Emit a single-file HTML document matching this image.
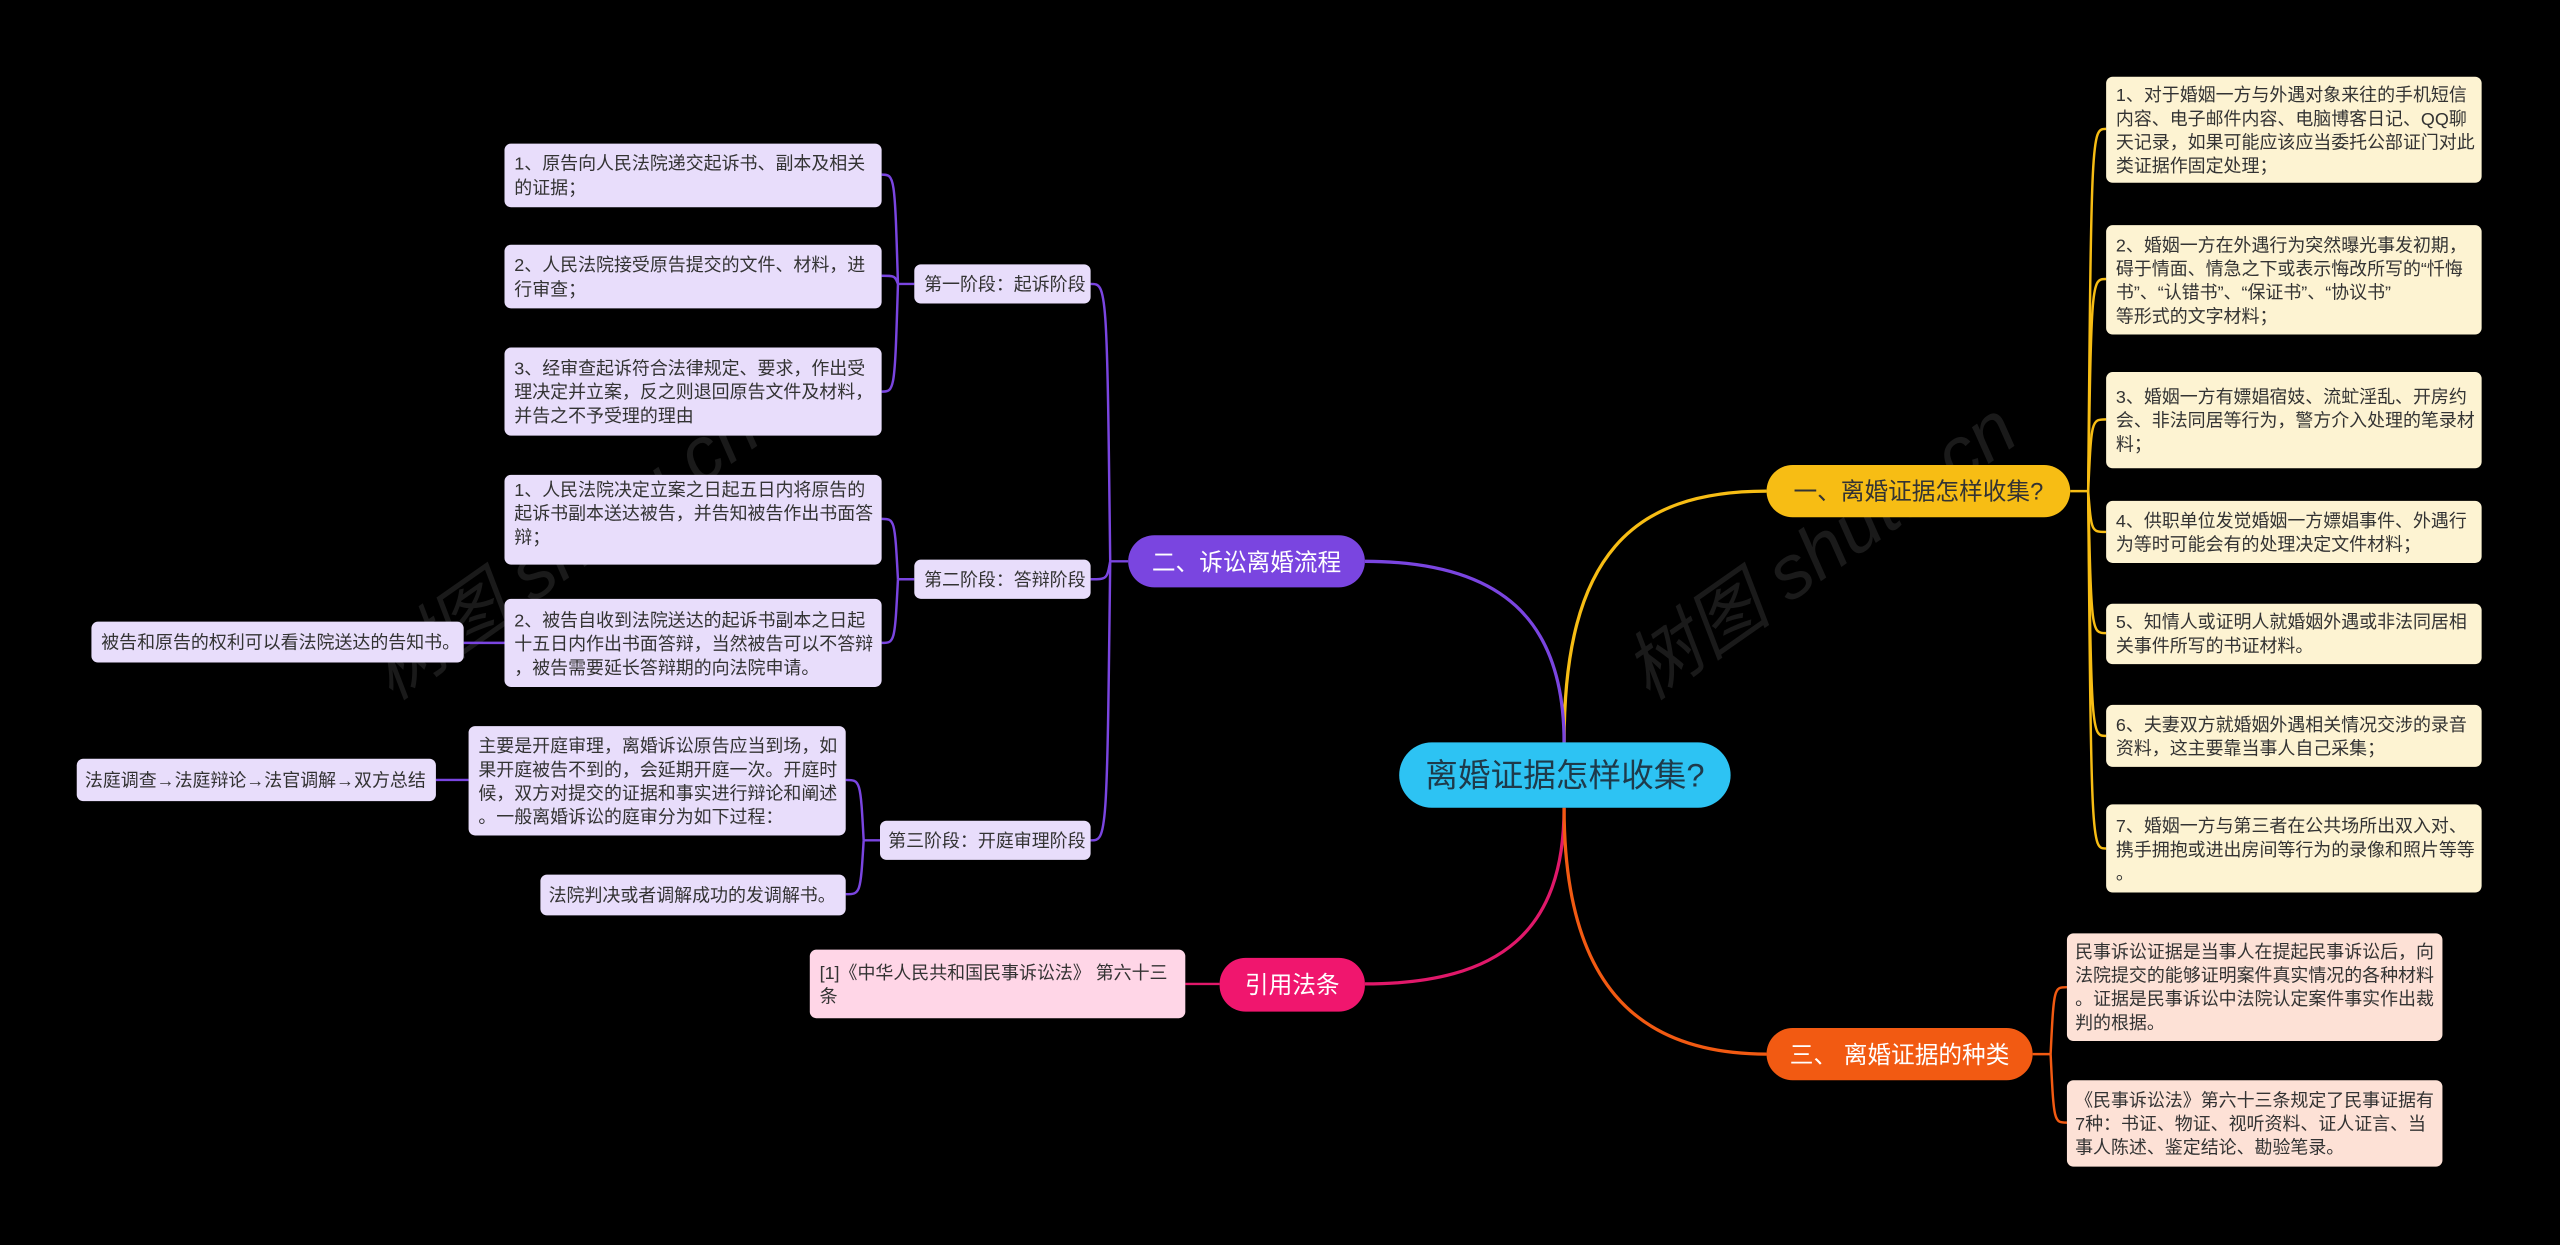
<!DOCTYPE html>
<html><head><meta charset="utf-8"><style>
html,body{margin:0;padding:0;background:#000;width:2560px;height:1245px;overflow:hidden}
svg{display:block}
text{font-family:"Liberation Sans","Noto Sans CJK SC",sans-serif}
.l{font-size:11px;fill:#333}
</style></head><body>
<svg width="2560" height="1245" viewBox="0 0 1568 763" preserveAspectRatio="none" xmlns="http://www.w3.org/2000/svg">
<g fill="#1a1a1a" font-size="46" font-family="Liberation Serif,Noto Serif CJK SC,serif" font-style="italic">
<text transform="translate(240,430) rotate(-35)">树图 shutu.cn</text>
<text transform="translate(1010,430) rotate(-35)">树图 shutu.cn</text>
</g>
<g fill="none" stroke-width="2">
<path d="M958,455 C958,340 1000,301 1082,301" stroke="#f7bd14"/>
<path d="M958,455 C958,380 920,344 836,344" stroke="#7a45e0"/>
<path d="M958,495 C958,570 920,603 836,603" stroke="#e0186a"/>
<path d="M958,495 C958,600 1000,646 1082,646" stroke="#f25a12"/>
</g>
<g fill="none" stroke="#f7bd14" stroke-width="1.5">
<path d="M1268,301 L1279,301"/>
<path d="M1279,301 C1281,79 1281,79 1290,79"/>
<path d="M1279,301 C1281,171 1281,171 1290,171"/>
<path d="M1279,301 C1281,257 1281,257 1290,257"/>
<path d="M1279,301 C1281,326 1281,326 1290,326"/>
<path d="M1279,301 C1281,388 1281,388 1290,388"/>
<path d="M1279,301 C1281,451 1281,451 1290,451"/>
<path d="M1279,301 C1281,520 1281,520 1290,520"/>
</g>
<g fill="none" stroke="#7a45e0" stroke-width="1.5">
<path d="M691,344 L680,344"/>
<path d="M680,344 C678,174 678,174 668,174"/>
<path d="M680,344 C678,355 678,355 668,355"/>
<path d="M680,344 C678,515 678,515 668,515"/>
<path d="M560,174 L550,174"/>
<path d="M550,174 C548,107 548,107 540,107"/>
<path d="M550,174 C548,169 548,169 540,169"/>
<path d="M550,174 C548,240 548,240 540,240"/>
<path d="M560,355 L550,355"/>
<path d="M550,355 C548,318 548,318 540,318"/>
<path d="M550,355 C548,394 548,394 540,394"/>
<path d="M309,394 L284,394"/>
<path d="M539,515 L529,515"/>
<path d="M529,515 C527,478 527,478 518,478"/>
<path d="M529,515 C527,548 527,548 518,548"/>
<path d="M287,478 L267,478"/>
</g>
<path d="M747,603 L726,603" stroke="#e0186a" stroke-width="1.5" fill="none"/>
<g fill="none" stroke="#f25a12" stroke-width="1.5">
<path d="M1245,646 L1256,646"/>
<path d="M1256,646 C1258,605 1258,605 1266,605"/>
<path d="M1256,646 C1258,688 1258,688 1266,688"/>
</g>

<rect x="857" y="455" width="203" height="40" rx="20" fill="#2dc3f3"/>
<text x="958.5" y="482" font-size="20" fill="#1e3a4a" text-anchor="middle">离婚证据怎样收集?</text>

<rect x="1082" y="285" width="186" height="32" rx="16" fill="#f7bd14"/>
<text x="1175" y="306" font-size="14.5" fill="#333" text-anchor="middle">一、离婚证据怎样收集?</text>
<rect x="691" y="328" width="145" height="32" rx="16" fill="#7a45e0"/>
<text x="763.5" y="349.5" font-size="14.5" fill="#fff" text-anchor="middle">二、诉讼离婚流程</text>
<rect x="747" y="587" width="89" height="33" rx="16" fill="#f0166e"/>
<text x="791.5" y="608.5" font-size="14.5" fill="#fff" text-anchor="middle">引用法条</text>
<rect x="1082" y="630" width="163" height="32" rx="16" fill="#f25a12"/>
<text x="1163.5" y="651.5" font-size="14.5" fill="#fff" text-anchor="middle">三、 离婚证据的种类</text>

<g fill="#fdf3d2">
<rect x="1290" y="47" width="230" height="65" rx="4"/>
<rect x="1290" y="138" width="230" height="67" rx="4"/>
<rect x="1290" y="228" width="230" height="59" rx="4"/>
<rect x="1290" y="307" width="230" height="38" rx="4"/>
<rect x="1290" y="370" width="230" height="37" rx="4"/>
<rect x="1290" y="432" width="230" height="38" rx="4"/>
<rect x="1290" y="493" width="230" height="54" rx="4"/>
</g>
<g class="l">
<text x="1296" y="62">1、对于婚姻一方与外遇对象来往的手机短信</text>
<text x="1296" y="76.5">内容、电子邮件内容、电脑博客日记、QQ聊</text>
<text x="1296" y="91">天记录，如果可能应该应当委托公部证门对此</text>
<text x="1296" y="105.5">类证据作固定处理；</text>
<text x="1296" y="154">2、婚姻一方在外遇行为突然曝光事发初期，</text>
<text x="1296" y="168.5">碍于情面、情急之下或表示悔改所写的“忏悔</text>
<text x="1296" y="183">书”、“认错书”、“保证书”、“协议书”</text>
<text x="1296" y="197.5">等形式的文字材料；</text>
<text x="1296" y="247">3、婚姻一方有嫖娼宿妓、流虻淫乱、开房约</text>
<text x="1296" y="261.5">会、非法同居等行为，警方介入处理的笔录材</text>
<text x="1296" y="276">料；</text>
<text x="1296" y="323">4、供职单位发觉婚姻一方嫖娼事件、外遇行</text>
<text x="1296" y="337.5">为等时可能会有的处理决定文件材料；</text>
<text x="1296" y="385">5、知情人或证明人就婚姻外遇或非法同居相</text>
<text x="1296" y="399.5">关事件所写的书证材料。</text>
<text x="1296" y="448">6、夫妻双方就婚姻外遇相关情况交涉的录音</text>
<text x="1296" y="462.5">资料，这主要靠当事人自己采集；</text>
<text x="1296" y="510">7、婚姻一方与第三者在公共场所出双入对、</text>
<text x="1296" y="524.5">携手拥抱或进出房间等行为的录像和照片等等</text>
<text x="1296" y="539">。</text>
</g>

<g fill="#e8ddfb">
<rect x="560" y="162" width="108" height="24" rx="4"/>
<rect x="560" y="343" width="108" height="24" rx="4"/>
<rect x="539" y="503" width="129" height="24" rx="4"/>
<rect x="309" y="88" width="231" height="39" rx="4"/>
<rect x="309" y="150" width="231" height="39" rx="4"/>
<rect x="309" y="213" width="231" height="54" rx="4"/>
<rect x="309" y="291" width="231" height="55" rx="4"/>
<rect x="309" y="367" width="231" height="54" rx="4"/>
<rect x="56" y="381" width="228" height="25" rx="4"/>
<rect x="287" y="445" width="231" height="67" rx="4"/>
<rect x="331" y="536" width="187" height="25" rx="4"/>
<rect x="47" y="465" width="220" height="26" rx="4"/>
</g>
<g class="l">
<text x="566" y="178">第一阶段：起诉阶段</text>
<text x="566" y="359">第二阶段：答辩阶段</text>
<text x="544" y="519">第三阶段：开庭审理阶段</text>
<text x="315" y="104">1、原告向人民法院递交起诉书、副本及相关</text>
<text x="315" y="119">的证据；</text>
<text x="315" y="166">2、人民法院接受原告提交的文件、材料，进</text>
<text x="315" y="181">行审查；</text>
<text x="315" y="229.5">3、经审查起诉符合法律规定、要求，作出受</text>
<text x="315" y="244">理决定并立案，反之则退回原告文件及材料，</text>
<text x="315" y="258.5">并告之不予受理的理由</text>
<text x="315" y="304">1、人民法院决定立案之日起五日内将原告的</text>
<text x="315" y="318.5">起诉书副本送达被告，并告知被告作出书面答</text>
<text x="315" y="333">辩；</text>
<text x="315" y="384">2、被告自收到法院送达的起诉书副本之日起</text>
<text x="315" y="398.5">十五日内作出书面答辩，当然被告可以不答辩</text>
<text x="315" y="413">，被告需要延长答辩期的向法院申请。</text>
<text x="62" y="397.5">被告和原告的权利可以看法院送达的告知书。</text>
<text x="293" y="461">主要是开庭审理，离婚诉讼原告应当到场，如</text>
<text x="293" y="475.5">果开庭被告不到的，会延期开庭一次。开庭时</text>
<text x="293" y="490">候，双方对提交的证据和事实进行辩论和阐述</text>
<text x="293" y="504.5">。一般离婚诉讼的庭审分为如下过程：</text>
<text x="336" y="552.5">法院判决或者调解成功的发调解书。</text>
<text x="52" y="482">法庭调查→法庭辩论→法官调解→双方总结</text>
</g>

<rect x="496" y="582" width="230" height="42" rx="4" fill="#ffd6e7"/>
<g class="l">
<text x="502" y="600">[1]《中华人民共和国民事诉讼法》 第六十三</text>
<text x="502" y="614.5">条</text>
</g>

<g fill="#fde1d6">
<rect x="1266" y="572" width="230" height="66" rx="4"/>
<rect x="1266" y="662" width="230" height="53" rx="4"/>
</g>
<g class="l">
<text x="1271" y="587">民事诉讼证据是当事人在提起民事诉讼后，向</text>
<text x="1271" y="601.5">法院提交的能够证明案件真实情况的各种材料</text>
<text x="1271" y="616">。证据是民事诉讼中法院认定案件事实作出裁</text>
<text x="1271" y="630.5">判的根据。</text>
<text x="1271" y="678">《民事诉讼法》第六十三条规定了民事证据有</text>
<text x="1271" y="692.5">7种：书证、物证、视听资料、证人证言、当</text>
<text x="1271" y="707">事人陈述、鉴定结论、勘验笔录。</text>
</g>
</svg>
</body></html>
